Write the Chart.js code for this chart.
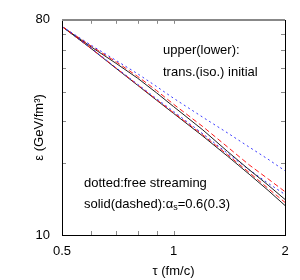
<!DOCTYPE html>
<html>
<head>
<meta charset="utf-8">
<script src="https://cdn.jsdelivr.net/npm/chart.js@4.4.1/dist/chart.umd.min.js"></script>
<style>
  html, body { margin: 0; padding: 0; background: #fff; }
  #wrap { width: 300px; height: 280px; }
</style>
</head>
<body>
<div id="wrap"><canvas id="energyChart" width="300" height="280"></canvas></div>
<script>
// proper time tau (fm/c)
const tau = [0.5, 0.6, 0.7, 0.8, 0.9, 1.0, 1.2, 1.4, 1.6, 1.8, 2.0];

// energy density (GeV/fm^3), upper = transverse initial, lower = isotropic initial
const transFree  = [75, 62.5, 54.0, 47.5, 42.0, 37.5, 31.2, 26.8, 23.4, 20.8, 18.6];
const transA03   = [75, 62.0, 53.3, 46.3, 40.4, 35.4, 28.5, 23.4, 19.7, 17.2, 15.2];
const transA06   = [75, 61.5, 52.5, 45.5, 39.5, 34.6, 27.6, 22.4, 18.8, 16.2, 14.1];
const isoFree    = [75, 60.7, 50.3, 42.9, 37.3, 33.0, 26.6, 22.0, 18.8, 16.5, 14.8];
const isoA03     = [75, 60.6, 50.2, 42.7, 37.0, 32.6, 26.3, 21.7, 18.3, 15.7, 13.7];
const isoA06     = [75, 60.5, 50.0, 42.5, 36.8, 32.4, 26.0, 21.4, 18.0, 15.4, 13.3];

const xTickValues = [0.5, 0.6, 0.7, 0.8, 0.9, 1, 2];
const xTickLabels = ['0.5', '', '', '', '', '1', '2'];
const yTickValues = [10, 20, 30, 40, 50, 60, 70, 80];
const yTickLabels = ['10', '', '', '', '', '', '', '80'];

const toPoints = (ys) => tau.map((t, i) => ({ x: t, y: ys[i] }));

const FONT = '"Liberation Sans", Arial, Helvetica, sans-serif';
const BLUE = '#3a3aff';
const RED = '#ff1a1a';
const BLACK = '#222222';

const line = (data, color, dash) => ({
    data: toPoints(data),
    borderColor: color,
    borderWidth: 1,
    borderDash: dash,
    pointRadius: 0,
    tension: 0,
    fill: false
});

// frame, inward ticks and the two text notes
const framePlugin = {
    id: 'frame',
    afterDraw(chart) {
        const { ctx, chartArea: a, scales } = chart;
        ctx.save();
        ctx.strokeStyle = '#888';
        ctx.lineWidth = 1;
        ctx.beginPath();
        yTickValues.slice(1, -1).forEach(v => {
            const y = Math.round(scales.y.getPixelForValue(v)) + 0.5;
            ctx.moveTo(a.left, y); ctx.lineTo(a.left + 4, y);
            ctx.moveTo(a.right, y); ctx.lineTo(a.right - 4, y);
        });
        xTickValues.slice(1, -1).forEach(v => {
            const x = Math.round(scales.x.getPixelForValue(v)) + 0.5;
            ctx.moveTo(x, a.bottom); ctx.lineTo(x, a.bottom - 4);
            ctx.moveTo(x, a.top); ctx.lineTo(x, a.top + 4);
        });
        ctx.stroke();

        ctx.strokeStyle = '#000';
        ctx.strokeRect(Math.round(a.left) + 0.5, Math.round(a.top) + 0.5,
            Math.round(a.right - a.left), Math.round(a.bottom - a.top));
        ctx.strokeStyle = '#888';
        ctx.lineWidth = 2;
        ctx.beginPath();
        ctx.moveTo(a.left, Math.round(a.top));
        ctx.lineTo(a.right, Math.round(a.top));
        ctx.stroke();

        ctx.fillStyle = '#000';
        ctx.textBaseline = 'middle';
        ctx.font = '13px ' + FONT;
        ctx.fillText('upper(lower):', 163, 50);
        ctx.fillText('trans.(iso.) initial', 163, 72);
        ctx.fillText('dotted:free streaming', 84, 183);
        let x = 84;
        const part1 = 'solid(dashed):\u03b1';
        ctx.fillText(part1, x, 204);
        x += ctx.measureText(part1).width;
        ctx.font = '9px ' + FONT;
        ctx.fillText('s', x, 208);
        x += ctx.measureText('s').width;
        ctx.font = '13px ' + FONT;
        ctx.fillText('=0.6(0.3)', x, 204);
        ctx.restore();
    }
};

const ctx = document.getElementById('energyChart').getContext('2d');
new Chart(ctx, {
    type: 'line',
    data: {
        datasets: [
            line(transFree, BLUE, [2, 3]),
            line(transA03, RED, [5, 3]),
            line(transA06, BLACK, []),
            line(isoFree, BLUE, [2, 3]),
            line(isoA03, RED, [5, 3]),
            line(isoA06, BLACK, [])
        ]
    },
    options: {
        responsive: false,
        animation: false,
        layout: { padding: { top: 15, right: 15, left: 0, bottom: 0 } },
        plugins: {
            legend: { display: false },
            tooltip: { enabled: false }
        },
        scales: {
            x: {
                type: 'logarithmic',
                min: 0.5,
                max: 2,
                afterBuildTicks: (scale) => {
                    scale.ticks = xTickValues.map(v => ({ value: v }));
                },
                afterFit: (scale) => { scale.height = 45; },
                grid: { display: false, drawTicks: false },
                border: { display: false },
                ticks: {
                    autoSkip: false,
                    maxRotation: 0,
                    padding: 9,
                    color: '#000',
                    font: { family: FONT, size: 13 },
                    callback: (value, index) => xTickLabels[index]
                },
                title: {
                    display: true,
                    text: '\u03c4 (fm/c)',
                    color: '#000',
                    font: { family: FONT, size: 13 },
                    padding: { top: 0, bottom: 1 }
                }
            },
            y: {
                type: 'logarithmic',
                min: 10,
                max: 80,
                afterBuildTicks: (scale) => {
                    scale.ticks = yTickValues.map(v => ({ value: v }));
                },
                afterFit: (scale) => { scale.width = 62; },
                grid: { display: false, drawTicks: false },
                border: { display: false },
                ticks: {
                    autoSkip: false,
                    padding: 12,
                    color: '#000',
                    font: { family: FONT, size: 13 },
                    callback: (value, index) => yTickLabels[index]
                },
                title: {
                    display: true,
                    text: '\u03b5 (GeV/fm\u00b3)',
                    color: '#000',
                    font: { family: FONT, size: 13 },
                    padding: { top: 32, bottom: 0 }
                }
            }
        }
    },
    plugins: [framePlugin]
});
</script>
</body>
</html>
